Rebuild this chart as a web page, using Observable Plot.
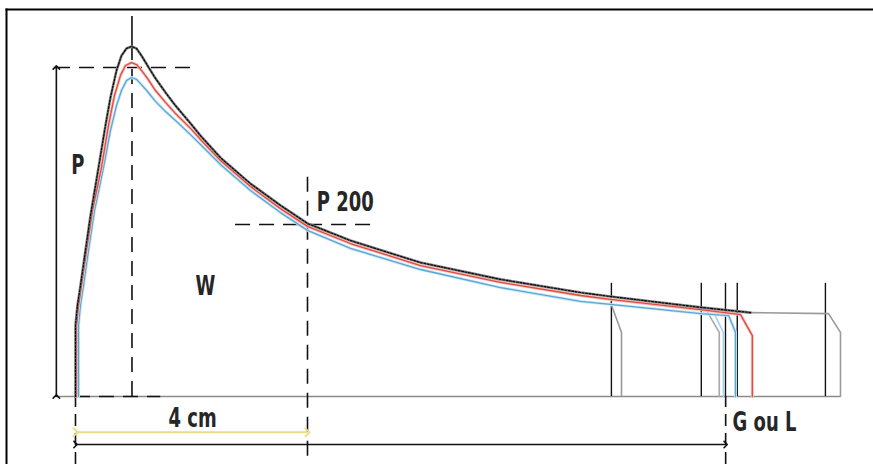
<!DOCTYPE html>
<html>
<head>
<meta charset="utf-8">
<script src="https://cdn.jsdelivr.net/npm/d3@7"></script>
<script src="https://cdn.jsdelivr.net/npm/@observablehq/plot@0.6"></script>
<style>
  html, body { margin: 0; padding: 0; background: #fff; overflow: hidden; }
  #wrap { position: relative; width: 873px; height: 464px; overflow: hidden; }
  #wrap svg { display: block; }
</style>
</head>
<body>
<div id="wrap"></div>
<script>
// Alveogram: x = length (mm), y = pressure (P = 100)
const blackX = [0, 0, 0.34, 0.86, 1.72, 2.59, 3.97, 5.17, 6.03, 7.07, 7.93, 8.79, 9.66, 10.52, 11.38, 12.41, 13.79, 15.52, 17.24, 19.83, 21.55, 25.0, 30.17, 35.34, 40, 47.41, 59.48, 73.28, 87.07, 92.24, 107.76, 116.38];
const blackY = [0, 21.6, 27.7, 33.7, 44.4, 55.0, 69.6, 82.4, 90.9, 99.1, 103.6, 105.8, 106.4, 105.8, 103.6, 100.6, 96.7, 92.4, 88.4, 83.0, 79.3, 72.6, 64.7, 58.1, 52.6, 47.4, 40.7, 35.6, 31.6, 30.4, 27.1, 25.5];
const redX = [0.17, 0.17, 0.52, 1.03, 1.9, 2.93, 4.48, 5.69, 6.72, 7.76, 8.62, 9.66, 10.52, 11.38, 12.41, 13.79, 15.52, 17.24, 19.83, 21.55, 25.0, 30.17, 35.34, 40, 47.41, 59.48, 73.28, 87.07, 92.24, 107.76, 114.66, 116.7, 116.7];
const redY = [0, 21.6, 27.7, 33.7, 44.4, 56.5, 69.6, 82.4, 91.5, 97.6, 100.6, 101.5, 100.9, 99.1, 96.7, 93.0, 89.4, 86.0, 81.5, 78.1, 71.7, 63.8, 57.1, 51.7, 46.5, 39.8, 34.7, 30.7, 29.5, 26.4, 24.9, 18.5, 0];
const blueX = [0.52, 0.52, 0.86, 1.38, 2.24, 3.28, 4.83, 6.03, 7.07, 7.93, 8.79, 9.66, 10.52, 11.38, 12.41, 13.79, 15.52, 17.24, 19.83, 21.55, 25.0, 30.17, 35.34, 40, 47.41, 59.48, 73.28, 87.07, 92.24, 107.76, 112.6, 113.8, 113.8];
const blueY = [0, 21.6, 27.7, 33.7, 44.4, 56.5, 69.6, 80.9, 88.4, 93.0, 96.0, 96.96, 96.4, 94.8, 92.7, 89.7, 86.6, 83.9, 79.6, 76.6, 70.5, 62.6, 55.9, 50.5, 45.0, 38.6, 33.1, 28.9, 28.0, 25.2, 24.6, 19.5, 0];
// tails of other samples
const tailX = [116.38, 129.83, 131.9, 131.9];
const tailY = [25.5, 25.2, 19.5, 0];
const gray1X = [92.24, 94.14, 94.14];
const gray1Y = [28.6, 19.5, 0];
const gray2X = [108.8, 111.0, 111.0];
const gray2Y = [26.1, 19.5, 0];
const lblueX = [110.2, 111.7, 111.7];
const lblueY = [24.9, 19.5, 0];
// end-of-test markers
const markerX = [92.4, 107.9, 112.07, 114.1, 129.3];
const markerTop = 34.4;
// reference values
const P = 100, peakL = 9.74, P200L = 40, P200 = 52.3, GL = 112.1;
const labels = ["P", "W", "P 200", "4 cm", "G ou L"];
const labelX = [0.4, 22.4, 41.6, 20.2, 113.3];
const labelY = [70.2, 33.6, 59.0, -6.6, -7.9];
const labelAnchor = ["middle", "middle", "start", "middle", "start"];

const pts = (xs, ys) => xs.map((x, i) => ({x, y: ys[i]}));
const labelData = labels.map((t, i) => ({t, x: labelX[i], y: labelY[i], a: labelAnchor[i]}));
const font = "DejaVu Sans Condensed, DejaVu Sans, sans-serif";

const chart = Plot.plot({
  width: 873, height: 464,
  marginLeft: 6, marginTop: 9, marginRight: 0, marginBottom: 0,
  x: {domain: [-11.896, 137.59], axis: null},
  y: {domain: [-20.67, 117.63], axis: null},
  marks: [
    // frame (left and top sides only)
    Plot.frame({anchor: "left", stroke: "#000", strokeWidth: 2}),
    Plot.frame({anchor: "top", stroke: "#000", strokeWidth: 2}),
    // baseline
    Plot.ruleY([0], {x1: -3.3, x2: 131.9, stroke: "#8a8a8a", strokeWidth: 1.6}),
    // dashed guides
    Plot.ruleY([P], {x1: -3.45, x2: 21.0, stroke: "#111", strokeWidth: 1.6, strokeDasharray: "15,9"}),
    Plot.ruleX([peakL], {y1: 0, y2: 106.4, stroke: "#111", strokeWidth: 1.6, strokeDasharray: "15,9"}),
    Plot.ruleX([peakL], {y1: 106.4, y2: 115.5, stroke: "#111", strokeWidth: 1.6}),
    Plot.ruleY([0], {x1: 0, x2: 14.7, stroke: "#111", strokeWidth: 1.6, strokeDasharray: "15,9"}),
    Plot.ruleY([P200], {x1: 27.6, x2: 51.7, stroke: "#111", strokeWidth: 1.6, strokeDasharray: "15,9"}),
    Plot.ruleX([P200L], {y1: -18.2, y2: 67.2, stroke: "#111", strokeWidth: 1.6, strokeDasharray: "15,9"}),
    Plot.ruleX([0], {y1: -20.7, y2: 0, stroke: "#111", strokeWidth: 1.6, strokeDasharray: "12,7"}),
    Plot.ruleX([GL], {y1: -20.7, y2: 0, stroke: "#111", strokeWidth: 1.6, strokeDasharray: "12,7"}),
    // P arrow
    Plot.link([{x: -3.3, y1: 0, y2: P}], {x1: "x", x2: "x", y1: "y1", y2: "y2", stroke: "#111", strokeWidth: 1.6, markerStart: "arrow", markerEnd: "arrow"}),
    // end markers
    Plot.ruleX(markerX, {y1: 0, y2: markerTop, stroke: "#111", strokeWidth: 1.4}),
    // other sample tails
    Plot.line(pts(tailX, tailY), {x: "x", y: "y", stroke: "#9a9a9a", strokeWidth: 1.6}),
    Plot.line(pts(gray1X, gray1Y), {x: "x", y: "y", stroke: "#9a9a9a", strokeWidth: 1.6}),
    Plot.line(pts(gray2X, gray2Y), {x: "x", y: "y", stroke: "#a8a8a8", strokeWidth: 1.6}),
    Plot.line(pts(lblueX, lblueY), {x: "x", y: "y", stroke: "#a5d3ec", strokeWidth: 1.6}),
    // curves
    Plot.line(pts(blueX, blueY), {x: "x", y: "y", stroke: "#cbe7f4", strokeWidth: 3}),
    Plot.line(pts(blueX, blueY), {x: "x", y: "y", stroke: "#5aa7d6", strokeWidth: 1.3}),
    Plot.line(pts(redX, redY), {x: "x", y: "y", stroke: "#f4c2bd", strokeWidth: 3}),
    Plot.line(pts(redX, redY), {x: "x", y: "y", stroke: "#e24a40", strokeWidth: 1.3}),
    Plot.line(pts(blackX, blackY), {x: "x", y: "y", stroke: "#7a7a7a", strokeWidth: 2.6}),
    Plot.line(pts(blackX, blackY), {x: "x", y: "y", stroke: "#000", strokeWidth: 1.1, strokeDasharray: "2,1.5"}),
    // measurement arrows
    Plot.link([{x1: 0, x2: P200L, y: -10.9}], {x1: "x1", x2: "x2", y1: "y", y2: "y", stroke: "#e9dc86", strokeWidth: 2, markerStart: "arrow", markerEnd: "arrow"}),
    Plot.link([{x1: 0, x2: GL, y: -14.6}], {x1: "x1", x2: "x2", y1: "y", y2: "y", stroke: "#111", strokeWidth: 1.6, markerStart: "arrow", markerEnd: "arrow"}),
    // labels
    Plot.text(labelData.filter(d => d.a === "middle"),
      {x: "x", y: "y", text: "t", fontSize: 27, fontWeight: "bold", fontFamily: font, fill: "#262626", textAnchor: "middle"}),
    Plot.text(labelData.filter(d => d.a === "start"),
      {x: "x", y: "y", text: "t", fontSize: 27, fontWeight: "bold", fontFamily: font, fill: "#262626", textAnchor: "start"})
  ]
});
// narrow the label glyphs horizontally (condensed look)
d3.select(chart).selectAll("text").each(function() {
  const el = d3.select(this);
  const t = el.attr("transform");
  if (t) el.attr("transform", t + " scale(0.74,1)");
  else {
    const x = +el.attr("x") || 0, y = +el.attr("y") || 0;
    el.attr("transform", `translate(${x},${y}) scale(0.74,1) translate(${-x},${-y})`);
  }
});
document.getElementById("wrap").prepend(chart);
</script>
</body>
</html>
